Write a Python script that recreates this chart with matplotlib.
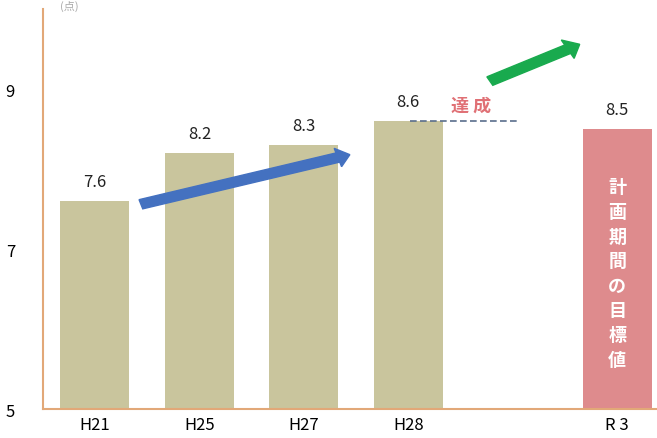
import matplotlib
matplotlib.use("Agg")
import matplotlib.pyplot as plt
from matplotlib.patches import FancyArrow

plt.rcParams['font.family'] = ['Noto Sans CJK JP', 'DejaVu Sans']

categories = ["H21", "H25", "H27", "H28", "", "R 3"]
values = [7.6, 8.2, 8.3, 8.6, None, 8.5]
value_labels = ["7.6", "8.2", "8.3", "8.6", "", "8.5"]
y_ticks = [5, 7, 9]
target_text = "計画期間の目標値"
achieved_text = "達 成"
unit_text = "(点)"

fig = plt.figure(figsize=(6.57, 4.39), dpi=100)
ax = fig.add_axes([0.065, 0.066, 0.935, 0.911])

bar_color = "#C9C59D"
target_color = "#DE8B8D"
axis_color = "#E2A878"
target_idx = len(categories) - 1

for i, v in enumerate(values):
    if v is None:
        continue
    col = target_color if i == target_idx else bar_color
    ax.bar(i, v - 5, bottom=5, width=0.66, color=col, zorder=2)
    ax.text(i, v + 0.14, value_labels[i], ha="center", va="bottom",
            fontsize=12, color="#222222")

# target vertical text
ax.text(target_idx, 5 + (values[target_idx] - 5) / 2 - 0.05, "\n".join(target_text),
        ha="center", va="center", fontsize=13, color="white", fontweight="bold",
        linespacing=1.38)

# dashed achievement line and text
ax.plot([3.02, 4.05], [values[3], values[3]], ls=(0, (4, 2)), color="#5A6E8C", lw=1.2, zorder=3)
ax.text(3.6, 8.8, achieved_text, ha="center", va="center",
        fontsize=13, color="#E07075", fontweight="bold")

# arrows
ax.add_patch(FancyArrow(0.44, 7.56, 2.0, 0.62, width=0.12, head_width=0.24,
                        head_length=0.12, length_includes_head=True,
                        color="#4471C0", zorder=4))
ax.add_patch(FancyArrow(3.78, 9.1, 0.86, 0.46, width=0.12, head_width=0.26,
                        head_length=0.13, length_includes_head=True,
                        color="#19AA4E", zorder=4))

ax.set_xlim(-0.5, 5.38)
ax.set_ylim(5, 10.0)
ax.set_yticks(y_ticks)
ax.set_yticklabels([str(t) for t in y_ticks], fontsize=12)
ax.set_xticks(range(len(categories)))
ax.set_xticklabels(categories, fontsize=12)
ax.tick_params(axis="both", length=0)
ax.tick_params(axis="x", pad=5)
ax.tick_params(axis="y", pad=20)
for s in ["top", "right"]:
    ax.spines[s].set_visible(False)
for s in ["left", "bottom"]:
    ax.spines[s].set_color(axis_color)
    ax.spines[s].set_linewidth(1.5)

fig.text(0.105, 0.998, unit_text, fontsize=8, ha="center", va="top", color="#aaaaaa")

fig.savefig("out.png", dpi=100)
